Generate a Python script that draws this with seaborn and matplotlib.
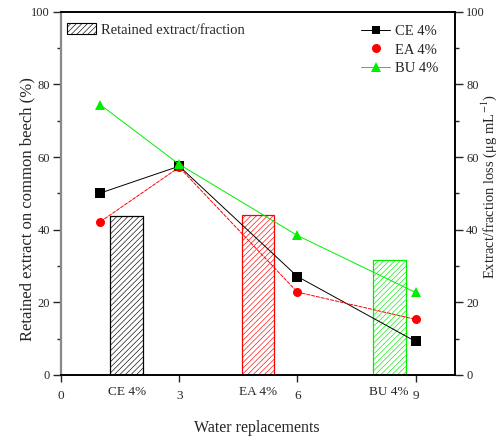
import numpy as np
import pandas as pd
import seaborn as sns
import matplotlib
matplotlib.use("Agg")
import matplotlib.pyplot as plt
from matplotlib.lines import Line2D
from matplotlib.patches import Patch
from matplotlib.ticker import MultipleLocator

# Extract/fraction loss after successive water replacements
replacements = [1, 3, 6, 9]
ce_loss = [50.1, 57.5, 27.1, 9.2]
ea_loss = [42.2, 57.2, 22.8, 15.3]
bu_loss = [74.4, 58.0, 38.4, 22.7]

# Retained extract on common beech
bar_labels = ["CE 4%", "EA 4%", "BU 4%"]
bar_pos = [1.67, 5.0, 8.33]
bar_values = [43.8, 44.1, 31.6]

series_names = ["CE 4%", "EA 4%", "BU 4%"]
colors = {"CE 4%": "black", "EA 4%": "#ff0000", "BU 4%": "#00ee00"}
markers = {"CE 4%": "s", "EA 4%": "o", "BU 4%": "^"}

df = pd.DataFrame({
    "x": replacements * 3,
    "loss": ce_loss + ea_loss + bu_loss,
    "series": [s for s in series_names for _ in replacements],
})

sns.set_style("ticks")
plt.rcParams["font.family"] = ["Liberation Serif", "DejaVu Serif"]
plt.rcParams["mathtext.fontset"] = "stix"
plt.rcParams["hatch.linewidth"] = 0.45

fig = plt.figure(figsize=(5, 4.4), dpi=100)
ax = fig.add_axes([0.122, 0.148, 0.788, 0.825])

bars = ax.bar(bar_pos, bar_values, width=0.83, color="white", zorder=1)
for b, name in zip(bars, series_names):
    b.set_edgecolor(colors[name])
    b.set_hatch("//////")
    b.set_linewidth(0.9)

ax2 = ax.twinx()
sns.lineplot(data=df, x="x", y="loss", hue="series", style="series",
             palette=colors, markers=markers, dashes=False, ax=ax2,
             linewidth=0.7, markersize=6.5, markeredgewidth=0, legend=False)
ax2.lines[1].set_linestyle((0, (4, 1)))

for a in (ax, ax2):
    a.set_xlim(0, 10)
    a.set_ylim(0, 100)
    a.yaxis.set_major_locator(MultipleLocator(20))
    a.yaxis.set_minor_locator(MultipleLocator(10))

ax.set_xticks([0, 3, 6, 9])
ax.set_xticks(bar_pos, minor=True)
ax.set_xticklabels(bar_labels, minor=True)
ax.tick_params(axis="x", which="major", direction="out", length=5, width=1, pad=6, labelsize=9.5)
ax.tick_params(axis="x", which="minor", length=0, pad=8, labelsize=9.5)
ax.tick_params(axis="y", which="major", direction="out", length=6, width=1, pad=2, labelsize=9)
ax.tick_params(axis="y", which="minor", direction="out", length=3, width=1)
ax2.tick_params(axis="y", which="major", direction="out", length=6, width=1, pad=2, labelsize=9)
ax2.tick_params(axis="y", which="minor", direction="out", length=3, width=1)

for a in (ax, ax2):
    for s in a.spines.values():
        s.set_linewidth(1.2)
        s.set_color("black")
        s.set_visible(True)
ax.spines["left"].set_color("#888888")
ax.spines["left"].set_linewidth(1.6)
ax2.spines["left"].set_visible(False)

ax.set_xlabel("Water replacements", fontsize=11.5)
ax.xaxis.set_label_coords(0.497, -0.125)
ax.set_ylabel("Retained extract on common beech (%)", fontsize=12)
ax.yaxis.set_label_coords(-0.066, 0.457)
ax2.set_ylabel("Extract/fraction loss (μg mL$^{-1}$)", fontsize=10.5)
ax2.yaxis.set_label_coords(1.063, 0.518)
ax2.set_xlabel("")

bar_handle = Patch(facecolor="white", edgecolor="black", hatch="//////", linewidth=0.8)
ax2.legend([bar_handle], ["Retained extract/fraction"], loc="upper left",
           bbox_to_anchor=(0.0, 0.985), frameon=False, fontsize=10.5,
           handlelength=2.0, handleheight=0.8, handletextpad=0.35,
           borderaxespad=0.1, borderpad=0.3)
leg_ax = fig.add_axes(ax.get_position(), frameon=False)
leg_ax.set_axis_off()
handles = [
    Line2D([], [], color="black", lw=0.7, marker="s", ms=6, mew=0),
    Line2D([], [], color="none", lw=0, marker="o", ms=6.5, mew=0, mfc="#ff0000"),
    Line2D([], [], color="#00ee00", lw=0.7, marker="^", ms=7, mew=0),
]
leg_ax.legend(handles, series_names, loc="upper right", bbox_to_anchor=(0.99, 1.0),
              frameon=False, fontsize=10.5, handlelength=2.0, handletextpad=0.3,
              labelspacing=0.35)

fig.savefig("out.png", dpi=100)
